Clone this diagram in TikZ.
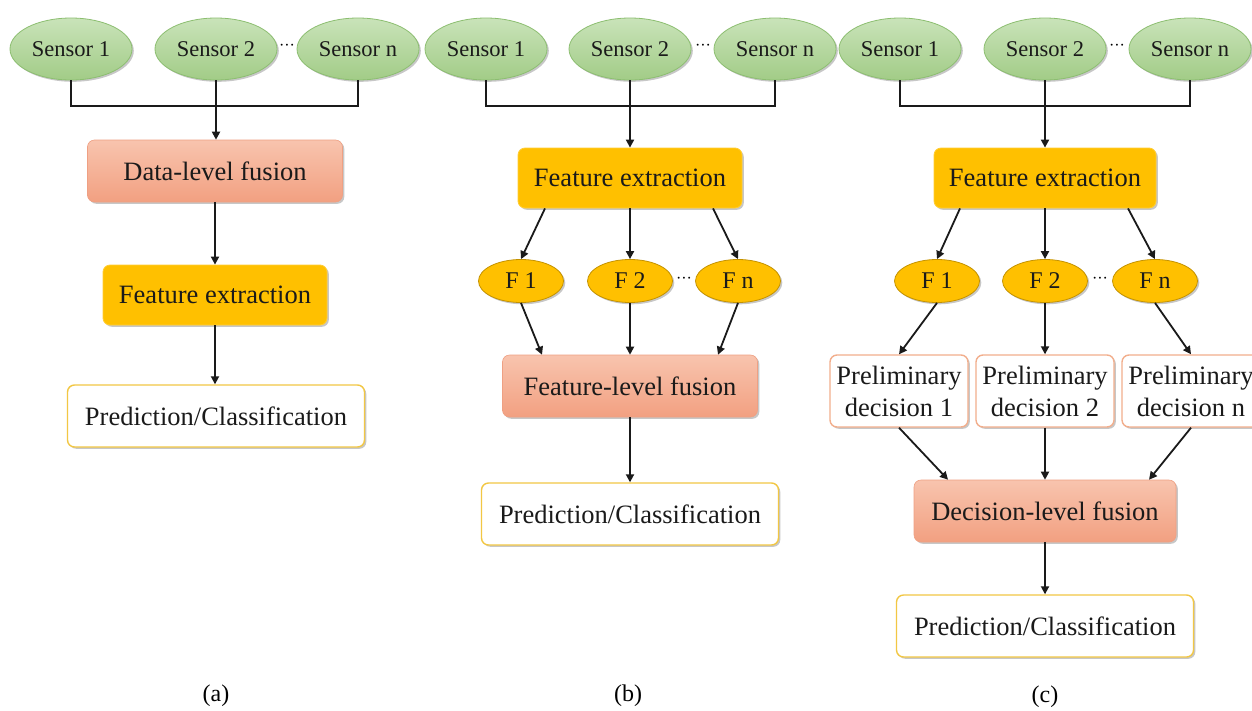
\documentclass[tikz,border=0pt]{standalone}
\usepackage{fontspec}
\setmainfont{Liberation Serif}
\usetikzlibrary{shapes.geometric,arrows.meta,shadows,calc}
\definecolor{sensortop}{HTML}{C9E3B9}
\definecolor{sensorbot}{HTML}{A2CC87}
\definecolor{sensorline}{HTML}{8CBE70}
\definecolor{fustop}{HTML}{F8C4AE}
\definecolor{fusbot}{HTML}{F2A081}
\definecolor{fusline}{HTML}{EFA083}
\definecolor{goldfill}{HTML}{FFC000}
\definecolor{goldline}{HTML}{C49200}
\definecolor{predline}{HTML}{F2C744}
\definecolor{prelline}{HTML}{F2AE8C}
\definecolor{inkcol}{HTML}{1A1A1A}
\begin{document}
\begin{tikzpicture}[x=1pt,y=-1pt,
  shad/.style={drop shadow={shadow xshift=1.8pt,shadow yshift=-1.8pt,opacity=0.22,fill=black}},
  sensor/.style={ellipse,draw=sensorline,line width=0.8pt,top color=sensortop,bottom color=sensorbot,
    minimum width=122pt,minimum height=62pt,inner sep=0pt,text=inkcol,font=\fontsize{22.5}{26}\selectfont,shad},
  fusbox/.style={rectangle,rounded corners=7pt,draw=fusline,line width=0.6pt,top color=fustop,bottom color=fusbot,
    minimum width=255pt,minimum height=62pt,inner sep=0pt,text=inkcol,font=\fontsize{26.5}{30}\selectfont,shad},
  febox/.style={rectangle,rounded corners=7pt,draw=goldfill!80!white,line width=0.8pt,fill=goldfill,
    minimum width=224pt,minimum height=60pt,inner sep=0pt,text=inkcol,font=\fontsize{26.5}{30}\selectfont,shad},
  predbox/.style={rectangle,rounded corners=7pt,draw=predline,line width=1.4pt,fill=white,
    minimum width=297pt,minimum height=62pt,inner sep=0pt,text=inkcol,font=\fontsize{26.5}{30}\selectfont,shad},
  prelbox/.style={rectangle,rounded corners=7pt,draw=prelline,line width=1.4pt,fill=white,
    minimum width=138pt,minimum height=72pt,inner sep=0pt,align=center,text=inkcol,font=\fontsize{26.5}{32}\selectfont,shad},
  fell/.style={ellipse,draw=goldline,line width=0.8pt,fill=goldfill,minimum width=85pt,minimum height=43pt,
    inner sep=0pt,text=inkcol,font=\fontsize{24}{28}\selectfont,shad},
  dotsnode/.style={inner sep=0pt,font=\fontsize{16}{18}\selectfont},
  lbl/.style={inner sep=0pt,font=\fontsize{24}{28}\selectfont},
  conn/.style={line width=1.8pt,inkcol},
  arr/.style={conn,-{Triangle[length=8pt,width=8pt]}}
]
\clip (0,0) rectangle (1252,710);
\fill[white] (0,0) rectangle (1252,710);

% ---------- (a) ----------
\node[sensor] (a1) at (71,49) {Sensor 1};
\node[sensor] (a2) at (216,49) {Sensor 2};
\node[sensor] (an) at (358,49) {Sensor n};
\node[dotsnode] (ad) at (287,47) {···};
\coordinate (ab) at (216,106);
\node[fusbox] (adf) at (215,171) {Data-level fusion};
\node[febox] (afe) at (215,295) {Feature extraction};
\node[predbox] (apc) at (216,416) {Prediction/Classification};
\node[lbl] (la) at (216,696) {(a)};
\draw[conn] (a1.south) |- (ab) -| (an.south);
\draw[arr] (a2.south) -- (a2.south |- adf.north);
\draw[arr] (adf.south) -- (afe.north);
\draw[arr] (afe.south) -- (afe.south |- apc.north);

% ---------- (b) ----------
\node[sensor] (b1) at (486,49) {Sensor 1};
\node[sensor] (b2) at (630,49) {Sensor 2};
\node[sensor] (bn) at (775,49) {Sensor n};
\node[dotsnode] (bd) at (703,47) {···};
\coordinate (bb) at (630,106);
\node[febox] (bfe) at (630,178) {Feature extraction};
\node[fell] (bf1) at (521,281) {F 1};
\node[fell] (bf2) at (630,281) {F 2};
\node[fell] (bfn) at (738,281) {F n};
\node[dotsnode] (bfd) at (684,280) {···};
\node[fusbox] (bflf) at (630,386) {Feature-level fusion};
\node[predbox] (bpc) at (630,514) {Prediction/Classification};
\node[lbl] (lb) at (628,696) {(b)};
\draw[conn] (b1.south) |- (bb) -| (bn.south);
\draw[arr] (b2.south) -- (bfe.north);
\draw[arr] ([xshift=-85pt]bfe.south) -- (bf1.north);
\draw[arr] (bfe.south) -- (bf2.north);
\draw[arr] ([xshift=83pt]bfe.south) -- (bfn.north);
\draw[arr] (bf1.south) -- ([xshift=-88pt]bflf.north);
\draw[arr] (bf2.south) -- (bflf.north);
\draw[arr] (bfn.south) -- ([xshift=88pt]bflf.north);
\draw[arr] (bflf.south) -- (bpc.north);

% ---------- (c) ----------
\node[sensor] (c1) at (900,49) {Sensor 1};
\node[sensor] (c2) at (1045,49) {Sensor 2};
\node[sensor] (cn) at (1190,49) {Sensor n};
\node[dotsnode] (cd) at (1117,47) {···};
\coordinate (cb) at (1045,106);
\node[febox,minimum width=222pt] (cfe) at (1045,178) {Feature extraction};
\node[fell] (cf1) at (937,281) {F 1};
\node[fell] (cf2) at (1045,281) {F 2};
\node[fell] (cfn) at (1155,281) {F n};
\node[dotsnode] (cfd) at (1100,280) {···};
\node[prelbox] (cp1) at (899,391) {Preliminary\\decision 1};
\node[prelbox] (cp2) at (1045,391) {Preliminary\\decision 2};
\node[prelbox] (cpn) at (1191,391) {Preliminary\\decision n};
\node[fusbox,minimum width=262pt] (cdlf) at (1045,511) {Decision-level fusion};
\node[predbox] (cpc) at (1045,626) {Prediction/Classification};
\node[lbl] (lc) at (1045,697) {(c)};
\draw[conn] (c1.south) |- (cb) -| (cn.south);
\draw[arr] (c2.south) -- (cfe.north);
\draw[arr] ([xshift=-85pt]cfe.south) -- (cf1.north);
\draw[arr] (cfe.south) -- (cf2.north);
\draw[arr] ([xshift=83pt]cfe.south) -- (cfn.north);
\draw[arr] (cf1.south) -- (cp1.north);
\draw[arr] (cf2.south) -- (cp2.north);
\draw[arr] (cfn.south) -- (cpn.north);
\draw[arr] (cp1.south) -- ([xshift=-97pt]cdlf.north);
\draw[arr] (cp2.south) -- (cdlf.north);
\draw[arr] (cpn.south) -- ([xshift=104pt]cdlf.north);
\draw[arr] (cdlf.south) -- (cpc.north);
\end{tikzpicture}
\end{document}
